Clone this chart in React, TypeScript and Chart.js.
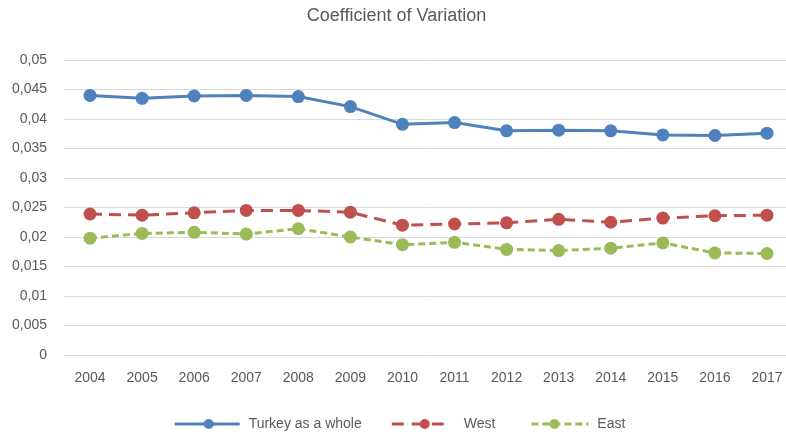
import React, { useEffect, useRef } from "react";
import { Chart, registerables } from "chart.js";

Chart.register(...registerables);

const years = ["2004", "2005", "2006", "2007", "2008", "2009", "2010", "2011", "2012", "2013", "2014", "2015", "2016", "2017"];
const turkeyValues = [0.0440, 0.0435, 0.0439, 0.0440, 0.0438, 0.0421, 0.0391, 0.0394, 0.0380, 0.0381, 0.0380, 0.0373, 0.0372, 0.0376];
const westValues = [0.0239, 0.0237, 0.0241, 0.0245, 0.0245, 0.0242, 0.0220, 0.0222, 0.0224, 0.0230, 0.0225, 0.0232, 0.0236, 0.0237];
const eastValues = [0.0198, 0.0206, 0.0208, 0.0205, 0.0214, 0.0200, 0.0187, 0.0191, 0.0179, 0.0177, 0.0181, 0.0190, 0.0173, 0.0172];
const seriesNames = ["Turkey as a whole", "West", "East"];
const titleText = "Coefficient of Variation";

const BLUE = "#4f81bd";
const RED = "#c0504d";
const GREEN = "#9bbb59";
const TEXT = "#595959";
const FONT = "'Liberation Sans', Arial, sans-serif";

const LEG_W = 74;

function legendImg(color: string, dash: number[], from: number, to: number, marker: number) {
  const c = document.createElement("canvas");
  c.width = LEG_W;
  c.height = 14;
  const ctx = c.getContext("2d")!;
  ctx.strokeStyle = color;
  ctx.lineWidth = 3;
  ctx.setLineDash(dash);
  ctx.beginPath();
  ctx.moveTo(from, 7);
  ctx.lineTo(to, 7);
  ctx.stroke();
  ctx.setLineDash([]);
  ctx.fillStyle = color;
  ctx.beginPath();
  ctx.arc(marker, 7, 5, 0, Math.PI * 2);
  ctx.fill();
  return c;
}

export default function App() {
  const ref = useRef<HTMLCanvasElement | null>(null);

  useEffect(() => {
    if (!ref.current) return;
    const imgs = [
      legendImg(BLUE, [], 7, 72, 41),
      legendImg(RED, [12, 8], 9, 65, 42),
      legendImg(GREEN, [7, 4], 15, 72, 38),
    ];
    const colors = [BLUE, RED, GREEN];
    const chart = new Chart(ref.current, {
      type: "line",
      data: {
        labels: years,
        datasets: [
          { label: seriesNames[0], data: turkeyValues, borderColor: BLUE, backgroundColor: BLUE, borderWidth: 3, pointRadius: 6.5, pointBorderWidth: 0, pointBackgroundColor: BLUE },
          { label: seriesNames[1], data: westValues, borderColor: RED, backgroundColor: RED, borderWidth: 3, borderDash: [12, 7], pointRadius: 6.5, pointBorderWidth: 0, pointBackgroundColor: RED },
          { label: seriesNames[2], data: eastValues, borderColor: GREEN, backgroundColor: GREEN, borderWidth: 3, borderDash: [7, 4], pointRadius: 6.5, pointBorderWidth: 0, pointBackgroundColor: GREEN },
        ],
      },
      options: {
        responsive: false,
        animation: false,
        layout: { padding: { left: 0, right: 7, top: 0, bottom: -5 } },
        scales: {
          x: {
            offset: true,
            grid: { display: false, drawTicks: false },
            border: { display: false },
            ticks: { color: TEXT, font: { family: FONT, size: 14 }, padding: 15, maxRotation: 0, autoSkip: false },
            afterFit: (s: any) => { s.height = 41; },
          },
          y: {
            min: 0,
            max: 0.05,
            grid: { color: "#d9d9d9", lineWidth: 1, drawTicks: false },
            border: { display: false },
            ticks: {
              stepSize: 0.005,
              color: TEXT,
              font: { family: FONT, size: 14 },
              padding: 17,
              callback: (v: any) => Number(Number(v).toFixed(3)).toString().replace(".", ","),
            },
            afterFit: (s: any) => { s.width = 64; },
          },
        },
        plugins: {
          title: {
            display: true,
            text: titleText,
            color: TEXT,
            font: { family: FONT, size: 18, weight: "normal" },
            padding: { top: 5, bottom: 33.4 },
          },
          legend: {
            position: "bottom",
            labels: {
              usePointStyle: true,
              pointStyleWidth: LEG_W,
              padding: 21,
              color: TEXT,
              font: { family: FONT, size: 14 },
              generateLabels: () =>
                seriesNames.map((n, i) => ({
                  text: n,
                  pointStyle: imgs[i],
                  fillStyle: colors[i],
                  strokeStyle: colors[i],
                  lineWidth: 0,
                  hidden: false,
                  datasetIndex: i,
                  fontColor: TEXT,
                })) as any,
            },
          },
          tooltip: { enabled: false },
        },
      },
    });
    return () => chart.destroy();
  }, []);

  return (
    <div style={{ position: "fixed", left: 0, top: 0, width: 786, height: 436, overflow: "hidden", background: "#fff" }}>
      <canvas ref={ref} width={800} height={436} style={{ width: 800, height: 436, display: "block" }} />
    </div>
  );
}
